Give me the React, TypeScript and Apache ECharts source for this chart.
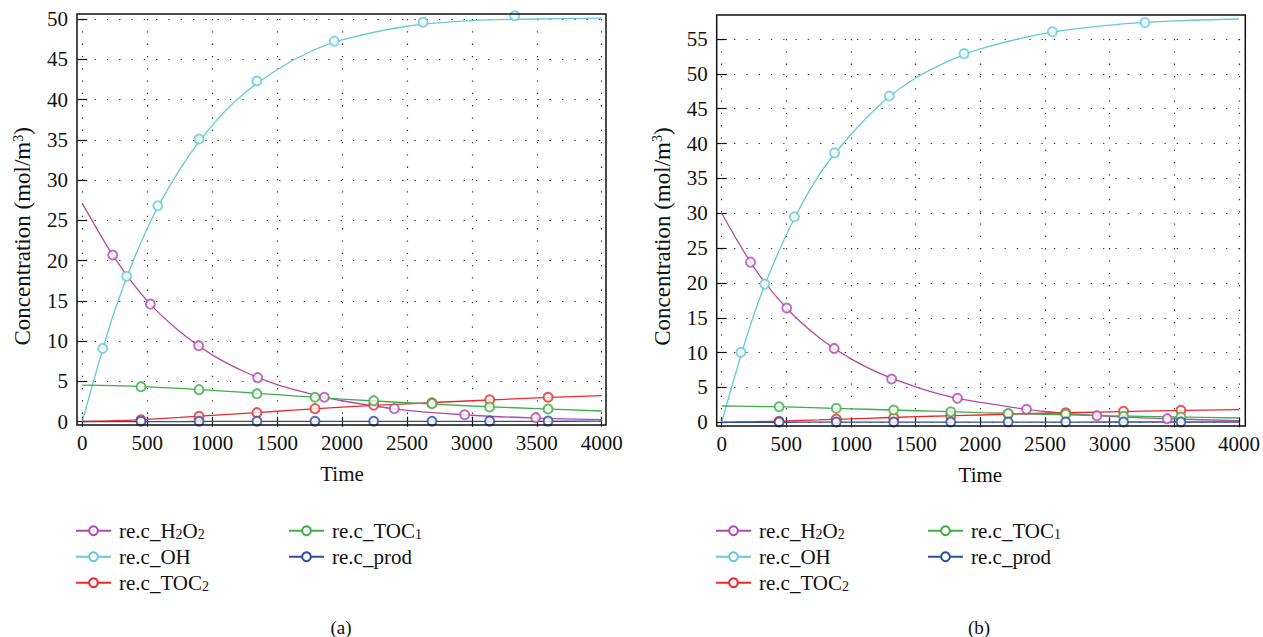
import React, { useEffect, useRef } from "react";
import * as echarts from "echarts";

// ---------- data ----------
const curveTimes = [0, 250, 500, 750, 1000, 1250, 1500, 1750, 2000, 2500, 3000, 3500, 4000];

// panel (a) curves
const aH2O2Curve = [27.1, 20.3, 15.0, 11.2, 8.3, 6.2, 4.6, 3.5, 2.6, 1.4, 0.8, 0.45, 0.25];
const aOHCurve = [0, 13.8, 24.0, 31.3, 36.8, 40.8, 43.7, 45.9, 47.4, 49.1, 49.8, 50.0, 50.1];
const aTOC2Curve = [0.05, 0.12, 0.3, 0.53, 0.78, 1.04, 1.3, 1.56, 1.8, 2.22, 2.6, 2.95, 3.23];
const aTOC1Curve = [4.55, 4.47, 4.33, 4.13, 3.9, 3.63, 3.35, 3.07, 2.8, 2.35, 1.95, 1.62, 1.33];
const aProdCurve = [0, 0.01, 0.02, 0.02, 0.03, 0.03, 0.04, 0.04, 0.04, 0.05, 0.05, 0.05, 0.06];

// panel (a) markers
const aH2O2Times = [234, 524, 896, 1351, 1864, 2403, 2945, 3492];
const aH2O2Pts = [20.7, 14.6, 9.44, 5.47, 3.03, 1.62, 0.87, 0.5];
const aOHTimes = [157, 342, 581, 899, 1345, 1941, 2624, 3330];
const aOHPts = [9.1, 18.06, 26.8, 35.1, 42.3, 47.25, 49.6, 50.4];
const aTocTimes = [452, 899, 1345, 1792, 2244, 2693, 3137, 3587];
const aTOC2Pts = [0.25, 0.67, 1.12, 1.62, 2.04, 2.36, 2.73, 3.03];
const aTOC1Pts = [4.35, 3.98, 3.48, 3.03, 2.61, 2.24, 1.83, 1.58];
const aProdPts = [0.05, 0.05, 0.06, 0.06, 0.06, 0.06, 0.07, 0.07];

// panel (b) curves
const bH2O2Curve = [30.0, 22.2, 16.4, 12.2, 9.1, 6.8, 5.1, 3.75, 2.85, 1.55, 0.85, 0.48, 0.23];
const bOHCurve = [0, 15.5, 26.9, 35.4, 41.3, 46.0, 49.4, 51.8, 53.6, 55.8, 57.0, 57.6, 57.87];
const bTOC2Curve = [0.0, 0.08, 0.2, 0.34, 0.5, 0.65, 0.8, 0.93, 1.05, 1.3, 1.5, 1.68, 1.81];
const bTOC1Curve = [2.34, 2.28, 2.2, 2.08, 1.94, 1.8, 1.66, 1.52, 1.38, 1.15, 0.95, 0.78, 0.62];
const bProdCurve = [0, 0.01, 0.01, 0.02, 0.02, 0.02, 0.03, 0.03, 0.03, 0.03, 0.04, 0.04, 0.04];

// panel (b) markers
const bH2O2Times = [223, 503, 870, 1314, 1823, 2357, 2901, 3445];
const bH2O2Pts = [22.98, 16.39, 10.6, 6.21, 3.44, 1.86, 0.95, 0.52];
const bOHTimes = [149, 334, 562, 873, 1296, 1874, 2557, 3273];
const bOHPts = [10.04, 19.83, 29.48, 38.66, 46.83, 52.9, 56.05, 57.35];
const bTocTimes = [444, 886, 1330, 1771, 2215, 2660, 3107, 3551];
const bTOC2Pts = [0.14, 0.47, 0.66, 0.95, 1.19, 1.38, 1.58, 1.72];
const bTOC1Pts = [2.24, 2.0, 1.76, 1.52, 1.25, 1.15, 0.85, 0.76];
const bProdPts = [0.03, 0.03, 0.03, 0.04, 0.04, 0.04, 0.04, 0.04];

const seriesNames = ["re.c_H2O2", "re.c_OH", "re.c_TOC2", "re.c_TOC1", "re.c_prod"];
const seriesLabels = [
  "re.c_H{sub|2}O{sub|2}",
  "re.c_OH",
  "re.c_TOC{sub|2}",
  "re.c_TOC{sub|1}",
  "re.c_prod",
];
const seriesColors = ["#B24BA7", "#66C9D8", "#EC2A2E", "#3DAE4A", "#2D4EA2"];

const xTicks = { min: 0, max: 4000, interval: 500 };
const aY = { min: 0, max: 50, interval: 5 };
const bY = { min: 0, max: 55, interval: 5 };

const panelCaptions = ["(a)", "(b)"];
const xName = "Time";
const yName = "Concentration (mol/m{sup|3})";

// ---------- chart ----------
const FONT = "'Liberation Serif', 'Times New Roman', serif";

function zip(xs: number[], ys: number[]) {
  return xs.map((x, i) => [x, ys[i]]);
}

export default function App() {
  const ref = useRef<HTMLDivElement>(null);

  useEffect(() => {
    if (!ref.current) return;
    const chart = echarts.init(ref.current, null, { renderer: "svg" });

    const panels = [
      {
        grid: { left: 82.3, right: 661.3, top: 19, bottom: 215.3 },
        off: { bottom: 3.3, top: 5, left: 5.3, right: 4.3 },
        y: aY,
        namePad: 32,
        curves: [aH2O2Curve, aOHCurve, aTOC2Curve, aTOC1Curve, aProdCurve],
        pts: [
          zip(aH2O2Times, aH2O2Pts),
          zip(aOHTimes, aOHPts),
          zip(aTocTimes, aTOC2Pts),
          zip(aTocTimes, aTOC1Pts),
          zip(aTocTimes, aProdPts),
        ],
        frame: { x: 77, y: 14, width: 529, height: 411 },
        legendLeft: [75, 288],
        caption: { x: 341, y: 627 },
      },
      {
        grid: { left: 721.7, right: 22, top: 39, bottom: 214.7 },
        off: { bottom: 3.7, top: 24, left: 5, right: 4.3 },
        y: bY,
        namePad: 12,
        curves: [bH2O2Curve, bOHCurve, bTOC2Curve, bTOC1Curve, bProdCurve],
        pts: [
          zip(bH2O2Times, bH2O2Pts),
          zip(bOHTimes, bOHPts),
          zip(bTocTimes, bTOC2Pts),
          zip(bTocTimes, bTOC1Pts),
          zip(bTocTimes, bProdPts),
        ],
        frame: { x: 716.7, y: 15, width: 528.6, height: 411 },
        legendLeft: [715, 927],
        caption: { x: 979, y: 627 },
      },
    ];

    const tick = { show: true, inside: true, length: 5, lineStyle: { color: "#111", width: 1.2 } };
    const split = { show: true, lineStyle: { color: "#333", width: 1.2, type: [1.3, 11] as any } };
    const labelStyle = { color: "#111", fontSize: 21, fontFamily: FONT };

    const grids: any[] = [];
    const xAxes: any[] = [];
    const yAxes: any[] = [];
    const series: any[] = [];
    const legends: any[] = [];
    const graphics: any[] = [];

    panels.forEach((p, pi) => {
      grids.push({ ...p.grid, containLabel: false });
      xAxes.push({
        gridIndex: pi,
        type: "value",
        position: "bottom",
        offset: p.off.bottom,
        ...xTicks,
        axisLine: { show: false },
        axisTick: tick,
        splitLine: split,
        axisLabel: { ...labelStyle, margin: 7, formatter: (v: number) => String(v) },
        name: xName,
        nameLocation: "middle",
        nameGap: 38,
        nameTextStyle: { ...labelStyle },
      });
      xAxes.push({
        gridIndex: pi,
        type: "value",
        position: "top",
        offset: p.off.top,
        ...xTicks,
        axisLine: { show: false },
        axisTick: tick,
        splitLine: { show: false },
        axisLabel: { show: false },
      });
      yAxes.push({
        gridIndex: pi,
        type: "value",
        position: "left",
        offset: p.off.left,
        ...p.y,
        axisLine: { show: false },
        axisTick: tick,
        splitLine: split,
        axisLabel: { ...labelStyle, margin: 9, formatter: (v: number) => String(v) },
        name: yName,
        nameLocation: "middle",
        nameGap: 43,
        nameTextStyle: {
          ...labelStyle,
          fontSize: 23,
          padding: [0, p.namePad, 0, 0],
          rich: {
            sup: { fontSize: 14, fontFamily: FONT, color: "#111", verticalAlign: "top", lineHeight: 10 },
          },
        },
      });
      yAxes.push({
        gridIndex: pi,
        type: "value",
        position: "right",
        offset: p.off.right,
        ...p.y,
        axisLine: { show: false },
        axisTick: tick,
        splitLine: { show: false },
        axisLabel: { show: false },
      });

      seriesNames.forEach((name, si) => {
        series.push({
          type: "line",
          name,
          xAxisIndex: pi * 2,
          yAxisIndex: pi * 2,
          data: zip(curveTimes, p.curves[si]),
          smooth: 0.3,
          symbol: "emptyCircle",
          showSymbol: false,
          clip: false,
          color: seriesColors[si],
          lineStyle: { color: seriesColors[si], width: 1.3 },
          itemStyle: { color: seriesColors[si] },
          z: 3,
        });
        series.push({
          type: "scatter",
          name: name + "_pts_" + pi,
          xAxisIndex: pi * 2,
          yAxisIndex: pi * 2,
          data: p.pts[si],
          symbol: "emptyCircle",
          symbolSize: 9,
          clip: false,
          itemStyle: { color: seriesColors[si], borderColor: seriesColors[si], borderWidth: 1.4 },
          z: 4,
        });
      });

      const mkLegend = (names: string[], left: number) => ({
        orient: "vertical",
        left,
        top: 519.7,
        padding: 0,
        itemGap: 4,
        itemWidth: 35,
        itemHeight: 11,
        selectedMode: false,
        data: names,
        formatter: (n: string) => seriesLabels[seriesNames.indexOf(n)],
        textStyle: {
          fontSize: 21,
          fontFamily: FONT,
          color: "#111",
          lineHeight: 22,
          padding: [0, 0, 0, 3],
          rich: {
            sub: { fontSize: 14, fontFamily: FONT, color: "#111", verticalAlign: "bottom", lineHeight: 8 },
          },
        },
      });
      legends.push(mkLegend(seriesNames.slice(0, 3), p.legendLeft[0]));
      legends.push(mkLegend(seriesNames.slice(3), p.legendLeft[1]));

      graphics.push({
        type: "rect",
        shape: p.frame,
        style: { fill: "none", stroke: "#111", lineWidth: 1.5 },
        z: 100,
        silent: true,
      });
      graphics.push({
        type: "text",
        x: p.caption.x,
        y: p.caption.y,
        style: {
          text: panelCaptions[pi],
          fontSize: 19,
          fontFamily: FONT,
          fill: "#111",
          textAlign: "center",
          textVerticalAlign: "middle",
        },
      });
    });

    chart.setOption({
      animation: false,
      backgroundColor: "#fff",
      grid: grids,
      xAxis: xAxes,
      yAxis: yAxes,
      series,
      legend: legends,
      graphic: graphics,
    });

    return () => chart.dispose();
  }, []);

  return (
    <div
      ref={ref}
      style={{ position: "absolute", left: 0, top: 0, width: 1263, height: 637 }}
    />
  );
}
